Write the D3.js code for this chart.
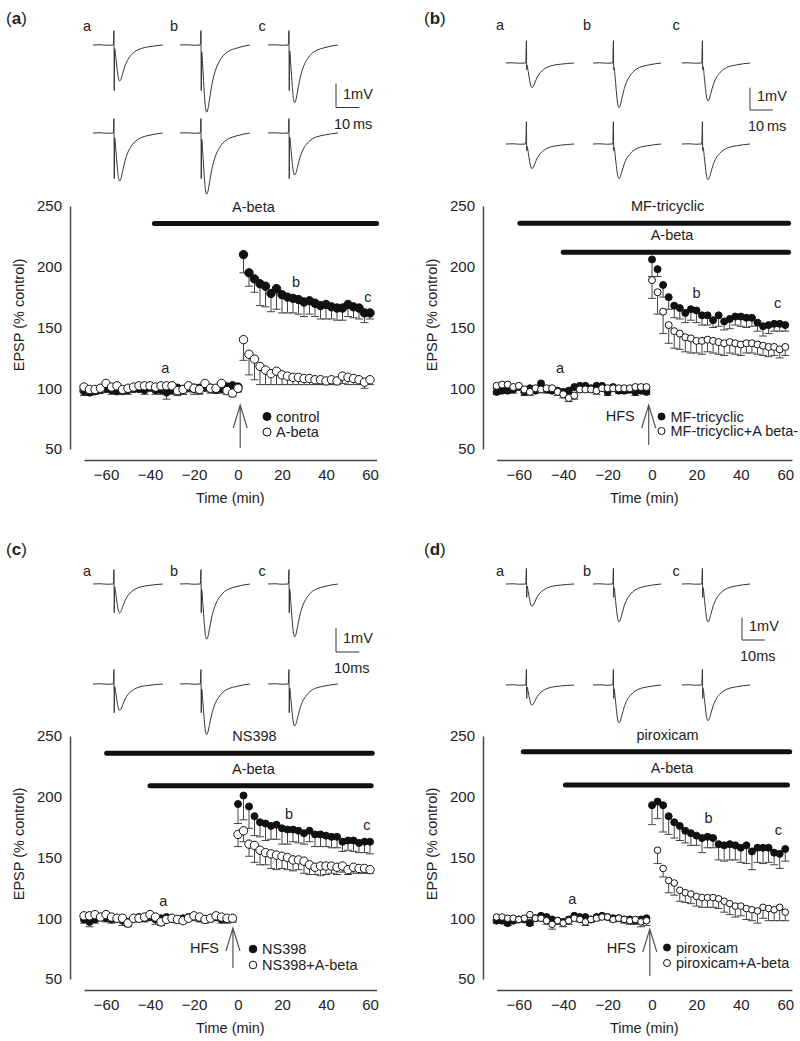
<!DOCTYPE html>
<html>
<head>
<meta charset="utf-8">
<script src="https://cdn.jsdelivr.net/npm/d3@7"></script>
<style>
  body { margin: 0; background: #fff; }
  svg text { font-family: "Liberation Sans", Arial, sans-serif; fill: #222; }
</style>
</head>
<body>
<script>
// ---- time points (min) ----
var preTime29 = [-70,-67.5,-65,-62.5,-60,-57.5,-55,-52.5,-50,-47.5,-45,-42.5,-40,-37.5,-35,-32.5,-30,-27.5,-25,-22.5,-20,-17.5,-15,-12.5,-10,-7.5,-5,-2.5,0];
var preTime28 = [-70,-67.5,-65,-62.5,-60,-57.5,-55,-52.5,-50,-47.5,-45,-42.5,-40,-37.5,-35,-32.5,-30,-27.5,-25,-22.5,-20,-17.5,-15,-12.5,-10,-7.5,-5,-2.5];
var postTime25 = [0,2.5,5,7.5,10,12.5,15,17.5,20,22.5,25,27.5,30,32.5,35,37.5,40,42.5,45,47.5,50,52.5,55,57.5,60];
var postTime24 = [2.5,5,7.5,10,12.5,15,17.5,20,22.5,25,27.5,30,32.5,35,37.5,40,42.5,45,47.5,50,52.5,55,57.5,60];

var yTicks = [50, 100, 150, 200, 250];
var xTicks = [-60, -40, -20, 0, 20, 40, 60];

// ---- panel (a): control vs A-beta ----
var aFilledPre = [98,97,98,99,100,99,98,98,99,100,100,99,101,99,99,97,99,100,99,101,100,100,101,100,99,100,101,102,101];
var aFilledPreErr = [4,3,3,3,3,4,3,3,4,3,3,4,3,4,4,6,4,3,4,4,5,4,3,4,3,4,4,4,4];
var aOpenPre = [101,99,99,100,104,101,102,99,100,101,102,102,102,101,102,102,102,98,99,102,100,99,104,100,100,104,98,96,100];
var aOpenPreErr = [3,3,2,3,3,2,3,4,3,2,3,3,3,2,3,3,3,4,4,3,3,4,4,3,3,4,3,3,3];
var aFilledPost = [210,195,190,186,184,178,182,177,175,174,173,171,172,170,168,169,167,166,166,169,167,166,162,162];
var aFilledPostErr = [15,11,11,18,17,15,17,15,13,12,12,12,11,11,11,12,10,10,10,10,9,9,8,5];
var aOpenPost = [140,128,124,118,115,112,114,111,110,109,109,108,108,107,107,106,107,106,110,109,108,107,105,107];
var aOpenPostErr = [17,17,17,15,12,9,11,8,7,6,6,5,5,4,4,3,4,3,6,6,5,4,5,4];

// ---- panel (b): MF-tricyclic ----
var bFilledPre = [97,98,98,99,101,97,100,98,104,99,98,98,97,98,101,102,102,100,102,102,97,101,98,98,99,97,98,97];
var bFilledPreErr = [2,2,2,3,2,3,2,2,3,3,2,2,3,2,2,2,2,3,2,2,3,3,2,2,3,3,2,2];
var bOpenPre = [102,103,103,101,102,99,97,100,99,100,100,97,95,92,94,99,99,99,98,100,100,100,100,100,100,101,101,101];
var bOpenPreErr = [2,2,2,2,2,3,3,2,2,2,2,3,3,3,3,2,2,2,3,2,2,2,2,2,2,2,2,2];
var bFilledPost = [206,198,185,175,168,166,162,165,164,160,160,156,160,155,157,159,159,158,158,154,151,152,153,153,152];
var bFilledPostErr = [14,6,10,10,10,9,8,9,10,8,8,6,9,7,8,7,8,8,7,7,8,7,6,6,5];
var bOpenPost = [189,179,163,152,147,145,142,141,139,139,140,139,138,137,138,137,136,137,137,136,135,134,134,132,134];
var bOpenPostErr = [15,18,18,15,14,13,12,12,10,11,10,10,10,10,9,9,9,8,8,8,8,8,7,7,7];

// ---- panel (c): NS398 ----
var cFilledPre = [99,97,99,101,100,99,100,98,97,100,101,100,101,99,100,101,100,99,100,101,102,100,99,100,101,99,99,100];
var cFilledPreErr = [3,4,3,3,3,3,3,4,3,3,3,3,3,4,3,3,3,3,3,3,4,3,3,3,3,3,3,3];
var cOpenPre = [102,102,103,101,103,101,100,100,96,100,100,101,103,101,97,99,100,99,98,100,102,101,99,100,102,101,100,100];
var cOpenPreErr = [2,2,2,2,2,3,3,3,3,3,2,2,2,3,3,2,2,2,2,2,2,3,2,2,2,3,3,3];
var cFilledPost = [194,201,192,184,179,178,176,177,174,173,173,172,170,172,169,169,168,167,167,163,164,164,162,163,163];
var cFilledPostErr = [16,20,18,16,12,14,11,12,13,12,10,10,9,9,10,10,9,9,9,8,8,9,8,9,10];
var cOpenPost = [169,172,161,160,156,154,153,152,151,150,148,148,147,144,142,143,143,143,142,143,140,142,141,141,140];
var cOpenPostErr = [10,9,10,14,12,10,12,12,10,10,9,8,10,8,6,8,7,6,6,5,4,5,4,4,3];

// ---- panel (d): piroxicam ----
var dFilledPre = [98,98,96,98,99,99,96,100,102,101,99,98,97,99,102,101,101,99,101,102,101,100,100,99,99,98,99,100];
var dFilledPreErr = [2,2,2,2,2,2,2,2,2,2,2,2,2,2,2,2,2,2,2,2,2,2,2,2,2,2,3,3];
var dOpenPre = [101,101,100,100,99,100,103,100,100,98,95,98,96,98,100,99,97,99,100,101,101,99,100,99,98,99,97,98];
var dOpenPreErr = [2,2,2,2,2,2,2,2,2,3,4,3,3,3,2,2,3,2,2,2,2,2,2,3,3,4,4,4];
var dFilledPost = [193,196,193,184,179,176,172,170,168,166,167,166,161,160,161,160,158,160,155,158,158,158,154,153,157];
var dFilledPostErr = [16,14,22,15,13,12,10,10,8,12,9,8,13,13,13,12,12,15,15,12,13,12,10,12,10];
var dOpenPost = [156,141,131,129,123,121,120,118,117,117,117,116,114,112,110,110,108,107,106,109,108,107,109,105];
var dOpenPostErr = [11,7,10,10,9,8,8,8,8,8,8,8,9,9,9,8,9,9,10,9,10,9,11,7];

// ---- EPSP traces: shared waveform (ms, fraction of peak) and peak amplitudes (mV) ----
var epspShape = [[0.3,-0.1],[0.8,-0.35],[1.4,-0.7],[2.0,-0.95],[2.5,-1],[3.0,-0.95],[3.8,-0.78],[4.8,-0.57],[6,-0.4],[7.5,-0.27],[9.5,-0.16],[12,-0.09],[15,-0.05],[18,-0.02],[21,0]];
var aTraceTop = [1.5, 2.8, 2.4], aTraceBottom = [2.0, 2.55, 1.75];
var bTraceTop = [1.1, 2.0, 1.7], bTraceBottom = [1.1, 1.55, 1.6];
var cTraceTop = [1.2, 2.3, 2.2], cTraceBottom = [1.1, 2.1, 1.75];
var dTraceTop = [1.0, 1.7, 1.7], dTraceBottom = [0.9, 1.7, 1.6];
// stimulus artefact: [up, down] in mV
var aArtifact = [0.6, 1.9], bArtifact = [1.0, 0.3], cArtifact = [0.6, 1.2], dArtifact = [0.7, 0.6];

var svg = d3.select("body").append("svg")
  .attr("width", 800)
  .attr("height", 1041);

function panel(cfg) {
  var g = svg.append("g");

  // panel letter
  var lab = g.append("text").attr("x", cfg.labX).attr("y", cfg.labY).style("font-size", "17px");
  lab.append("tspan").text("(");
  lab.append("tspan").style("font-weight", "bold").text(cfg.letter);
  lab.append("tspan").text(")");

  // ---- traces ----
  var t = cfg.traces;
  var tx = d3.scaleLinear().domain([0, 10]).range([0, t.pxPerMs * 10]);
  var ty = d3.scaleLinear().domain([0, 1]).range([0, -t.pxPerMv]);
  var line = d3.line().x(d => tx(d[0])).y(d => ty(d[1])).curve(d3.curveMonotoneX);
  ["a", "b", "c"].forEach(function (s, i) {
    g.append("text").attr("x", t.x0[i] - 6).attr("y", t.labY).attr("text-anchor", "middle")
      .style("font-size", "14.5px").text(s);
  });
  [[t.top, t.yTop], [t.bottom, t.yBottom]].forEach(function (row) {
    row[0].forEach(function (amp, i) {
      var pts = [[-9, 0], [-6, 0.01], [-3, -0.01], [-0.3, 0], [0, t.art[0]], [0.12, -t.art[1]]]
        .concat(epspShape.map(p => [p[0], p[1] * amp]));
      g.append("path")
        .attr("transform", `translate(${t.x0[i] + tx(9)},${row[1]})`)
        .attr("d", line(pts))
        .attr("fill", "none")
        .attr("stroke", "#333")
        .attr("stroke-width", 1);
    });
  });
  // scale bar
  var sb = t.scaleBar;
  g.append("path")
    .attr("d", `M${sb.x},${sb.y - t.pxPerMv}V${sb.y}H${sb.x + tx(10)}`)
    .attr("fill", "none").attr("stroke", "#333").attr("stroke-width", 1);
  g.append("text").attr("x", sb.x + 7).attr("y", sb.y - 9).style("font-size", "14.5px").text("1mV");
  g.append("text").attr("x", sb.x - 2).attr("y", sb.y + 21).style("font-size", "14.5px").text(sb.msText);

  // ---- time course ----
  var x = d3.scaleLinear().domain([-70, 63]).range(cfg.xRange);
  var y = d3.scaleLinear().domain([50, 250]).range(cfg.yRange);

  var yAxis = g.append("g")
    .attr("transform", `translate(${cfg.yAxisX},0)`)
    .call(d3.axisLeft(y).tickValues(yTicks).tickSize(0).tickPadding(8));
  var xAxis = g.append("g")
    .attr("transform", `translate(0,${cfg.xAxisY})`)
    .call(d3.axisBottom(x).tickValues(xTicks).tickSize(0).tickPadding(9).tickFormat(d => d < 0 ? "\u2212" + (-d) : d));
  [yAxis, xAxis].forEach(function (ax) {
    ax.select(".domain").attr("stroke", "#444").attr("stroke-width", 1.5);
    ax.selectAll("text").style("font-size", "15px").attr("fill", "#222");
  });

  g.append("text")
    .attr("transform", `translate(${cfg.yAxisX - 46},${cfg.yLabelY}) rotate(-90)`)
    .attr("text-anchor", "middle")
    .style("font-size", "14.5px")
    .text("EPSP (% control)");
  g.append("text")
    .attr("x", x(-3.5)).attr("y", cfg.xAxisY + 43)
    .attr("text-anchor", "middle")
    .style("font-size", "14.5px")
    .text("Time (min)");

  // drug application bars
  cfg.bars.forEach(function (b) {
    g.append("line")
      .attr("x1", x(b.from)).attr("x2", x(b.to))
      .attr("y1", y(b.level)).attr("y2", y(b.level))
      .attr("stroke", "#111").attr("stroke-width", 5).attr("stroke-linecap", "round");
    g.append("text")
      .attr("x", x(b.textAt)).attr("y", y(b.level) - 12)
      .attr("text-anchor", "middle").style("font-size", "14.5px").text(b.name);
  });

  // series: error bars (downwards) then markers
  cfg.series.forEach(function (s) {
    var pts = s.time.map((tm, i) => ({ t: tm, v: s.values[i], e: s.err[i] }));
    var eg = g.append("g").attr("stroke", "#444").attr("stroke-width", 1);
    eg.selectAll("line.v").data(pts).enter().append("line")
      .attr("x1", d => x(d.t)).attr("x2", d => x(d.t))
      .attr("y1", d => y(d.v)).attr("y2", d => y(d.v - d.e));
    eg.selectAll("line.c").data(pts).enter().append("line")
      .attr("x1", d => x(d.t) - 4).attr("x2", d => x(d.t) + 4)
      .attr("y1", d => y(d.v - d.e)).attr("y2", d => y(d.v - d.e));
    g.append("g").selectAll("circle").data(pts).enter().append("circle")
      .attr("cx", d => x(d.t)).attr("cy", d => y(d.v))
      .attr("r", s.r)
      .attr("fill", s.filled ? "#111" : "#fff")
      .attr("stroke", "#111").attr("stroke-width", 1);
  });

  // a, b, c time markers
  cfg.marks.forEach(function (m) {
    g.append("text").attr("x", x(m[1])).attr("y", y(m[2]))
      .attr("text-anchor", "middle").style("font-size", "14.5px").text(m[0]);
  });

  // HFS arrow
  var ar = cfg.arrow;
  var ax0 = x(ar.t);
  g.append("path")
    .attr("d", `M${ax0},${ar.base}V${ar.apex}M${ax0 - 7},${ar.apex + 23}L${ax0},${ar.apex}L${ax0 + 7},${ar.apex + 23}`)
    .attr("fill", "none").attr("stroke", "#555").attr("stroke-width", 1.2);
  if (cfg.hfs) {
    g.append("text").attr("x", ax0 - 14).attr("y", cfg.hfsY)
      .attr("text-anchor", "end").style("font-size", "14.5px").text("HFS");
  }

  // legend
  var lg = cfg.legend;
  lg.names.forEach(function (n, i) {
    var cy = lg.y + i * lg.dy;
    g.append("circle").attr("cx", lg.x).attr("cy", cy).attr("r", lg.r)
      .attr("fill", i === 0 ? "#111" : "#fff").attr("stroke", "#111").attr("stroke-width", 1);
    g.append("text").attr("x", lg.x + 9).attr("y", cy + 5).style("font-size", "14.5px").text(n);
  });
}

// ---- panel (a) ----
panel({
  letter: "a", labX: 6, labY: 24,
  traces: { x0: [93, 180, 268], labY: 31, yTop: 45, yBottom: 133, pxPerMs: 2.33, pxPerMv: 24,
    top: aTraceTop, bottom: aTraceBottom, art: aArtifact,
    scaleBar: { x: 336, y: 107.5, msText: "10\u2009ms" } },
  xRange: [84, 376.6], yRange: [449, 206], yAxisX: 70, xAxisY: 460, yLabelY: 315,
  bars: [{ name: "A-beta", from: -38, to: 63, level: 235.5, textAt: 7 }],
  series: [
    { time: preTime29, values: aFilledPre, err: aFilledPreErr, filled: true, r: 4.2 },
    { time: postTime24, values: aFilledPost, err: aFilledPostErr, filled: true, r: 4.2 },
    { time: preTime29, values: aOpenPre, err: aOpenPreErr, filled: false, r: 4.2 },
    { time: postTime24, values: aOpenPost, err: aOpenPostErr, filled: false, r: 4.2 }
  ],
  marks: [["a", -33, 112.5], ["b", 26.4, 183.3], ["c", 59, 171]],
  arrow: { t: 1, base: 448, apex: 405 },
  hfs: false,
  legend: { x: 267, y: 416.5, dy: 15.5, r: 4, names: ["control", "A-beta"] }
});

// ---- panel (b) ----
panel({
  letter: "b", labX: 424, labY: 24,
  traces: { x0: [506, 593, 682], labY: 29.5, yTop: 63, yBottom: 144, pxPerMs: 2.27, pxPerMv: 22.3,
    top: bTraceTop, bottom: bTraceBottom, art: bArtifact,
    scaleBar: { x: 750, y: 110, msText: "10\u2009ms" } },
  xRange: [496.6, 791.9], yRange: [449, 206], yAxisX: 483, xAxisY: 460, yLabelY: 315,
  bars: [{ name: "MF-tricyclic", from: -59.5, to: 61.5, level: 235.7, textAt: 7 },
         { name: "A-beta", from: -40, to: 61.5, level: 212, textAt: 9 }],
  series: [
    { time: preTime28, values: bFilledPre, err: bFilledPreErr, filled: true, r: 3.5 },
    { time: postTime25, values: bFilledPost, err: bFilledPostErr, filled: true, r: 3.5 },
    { time: preTime28, values: bOpenPre, err: bOpenPreErr, filled: false, r: 3.5 },
    { time: postTime25, values: bOpenPost, err: bOpenPostErr, filled: false, r: 3.5 }
  ],
  marks: [["a", -41.4, 112.8], ["b", 20.1, 174], ["c", 56.6, 165.8]],
  arrow: { t: -1.5, base: 445, apex: 405 },
  hfs: true, hfsY: 421,
  legend: { x: 661.5, y: 416.5, dy: 14.5, r: 3.5, names: ["MF-tricyclic", "MF-tricyclic+A beta-"] }
});

// ---- panel (c) ----
panel({
  letter: "c", labX: 6, labY: 555,
  traces: { x0: [93, 180, 268], labY: 576, yTop: 584, yBottom: 684, pxPerMs: 2.33, pxPerMv: 24,
    top: cTraceTop, bottom: cTraceBottom, art: cArtifact,
    scaleBar: { x: 336, y: 652, msText: "10ms" } },
  xRange: [84, 376.6], yRange: [979, 736], yAxisX: 70, xAxisY: 990, yLabelY: 844,
  bars: [{ name: "NS398", from: -59.7, to: 61, level: 235.7, textAt: 7.5 },
         { name: "A-beta", from: -40, to: 60.5, level: 209, textAt: 7 }],
  series: [
    { time: preTime28, values: cFilledPre, err: cFilledPreErr, filled: true, r: 3.5 },
    { time: postTime25, values: cFilledPost, err: cFilledPostErr, filled: true, r: 3.5 },
    { time: preTime28, values: cOpenPre, err: cOpenPreErr, filled: false, r: 4.2 },
    { time: postTime25, values: cOpenPost, err: cOpenPostErr, filled: false, r: 4.2 }
  ],
  marks: [["a", -34, 110], ["b", 23.2, 181.7], ["c", 58.6, 172.6]],
  arrow: { t: -2.3, base: 968, apex: 928 },
  hfs: true, hfsY: 953,
  legend: { x: 253, y: 949, dy: 16, r: 3.8, names: ["NS398", "NS398+A-beta"] }
});

// ---- panel (d) ----
panel({
  letter: "d", labX: 424, labY: 555,
  traces: { x0: [506, 593, 682], labY: 576, yTop: 584, yBottom: 685, pxPerMs: 2.27, pxPerMv: 22.3,
    top: dTraceTop, bottom: dTraceBottom, art: dArtifact,
    scaleBar: { x: 742, y: 640, msText: "10ms" } },
  xRange: [496.6, 791.9], yRange: [979, 736], yAxisX: 483, xAxisY: 990, yLabelY: 844,
  bars: [{ name: "piroxicam", from: -58, to: 62, level: 237, textAt: 7 },
         { name: "A-beta", from: -39, to: 61, level: 209.7, textAt: 9 }],
  series: [
    { time: preTime28, values: dFilledPre, err: dFilledPreErr, filled: true, r: 3.5 },
    { time: postTime25, values: dFilledPost, err: dFilledPostErr, filled: true, r: 3.5 },
    { time: preTime28, values: dOpenPre, err: dOpenPreErr, filled: false, r: 3.3 },
    { time: postTime24, values: dOpenPost, err: dOpenPostErr, filled: false, r: 3.3 }
  ],
  marks: [["a", -35.9, 111.7], ["b", 25.4, 178.6], ["c", 56.9, 168.3]],
  arrow: { t: -1, base: 976, apex: 929 },
  hfs: true, hfsY: 953,
  legend: { x: 667, y: 947.5, dy: 15.5, r: 3.5, names: ["piroxicam", "piroxicam+A-beta"] }
});
</script>
</body>
</html>
